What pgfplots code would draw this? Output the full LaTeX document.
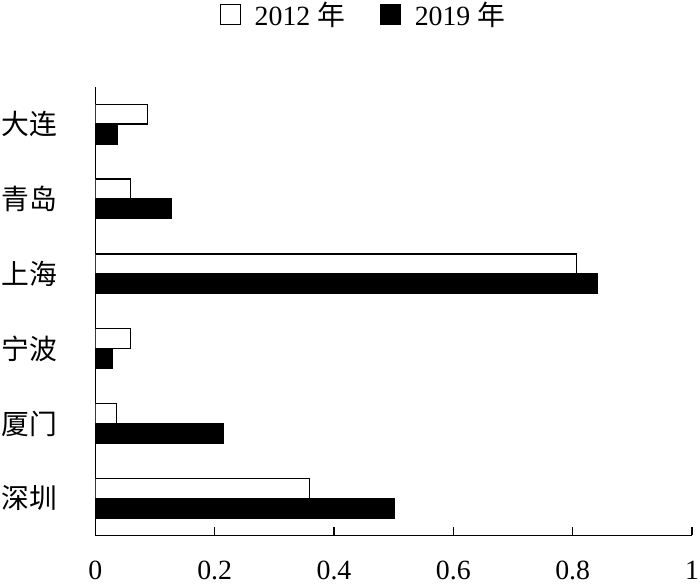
\documentclass[border=0pt]{standalone}
\usepackage{pgfplots}
\pgfplotsset{compat=1.18}
\usepackage{fontspec}
\setmainfont{Liberation Serif}
\newfontfamily\cjk{Noto Sans CJK SC}
\begin{document}
\begin{tikzpicture}
\begin{axis}[
    scale only axis,
    width=300.5bp, height=225.5bp,
    xbar, bar width=10bp,
    xmin=0, xmax=1, ymin=-0.49, ymax=5.49,
    axis lines*=left,
    axis line style={line width=0.6bp},
    xtick={0,0.2,0.4,0.6,0.8,1},
    ytick={0,1,2,3,4,5},
    yticklabels={深圳,厦门,宁波,上海,青岛,大连},
    y tick style={draw=none},
    x tick style={line width=0.6bp, black},
    tick align=inside, major tick length=4bp,
    /pgf/number format/assume math mode=true,
    font=\fontsize{14bp}{16bp}\selectfont,
    xticklabel style={yshift=-9.5bp},
    yticklabel style={font=\cjk\fontsize{14bp}{16bp}\selectfont, xshift=-15.5bp},
    legend style={draw=none, at={(0.451,1.162)}, anchor=center,
        font=\fontsize{14bp}{16bp}\selectfont, inner sep=0pt},
    legend columns=2,
    /tikz/every even column/.append style={column sep=15.5bp},
    legend image code/.code={\draw[#1, line width=0.6bp] (0bp,-5bp) rectangle (10bp,5bp);},
]
\addplot[fill=white, draw=black, line width=0.6bp, bar shift=5bp]
    coordinates {(0.359,0) (0.036,1) (0.059,2) (0.807,3) (0.059,4) (0.087,5)};
\addlegendentry{\hspace{5bp}2012 {\cjk 年}}
\addplot[fill=black, draw=black, line width=0.6bp, bar shift=-5bp]
    coordinates {(0.502,0) (0.214,1) (0.029,2) (0.842,3) (0.127,4) (0.037,5)};
\addlegendentry{\hspace{5bp}2019 {\cjk 年}}
\end{axis}
\pgfresetboundingbox
\path[use as bounding box] ([xshift=-48bp,yshift=-26bp]current axis.south west)
    rectangle ([xshift=4bp,yshift=44bp]current axis.north east);
\end{tikzpicture}
\end{document}
